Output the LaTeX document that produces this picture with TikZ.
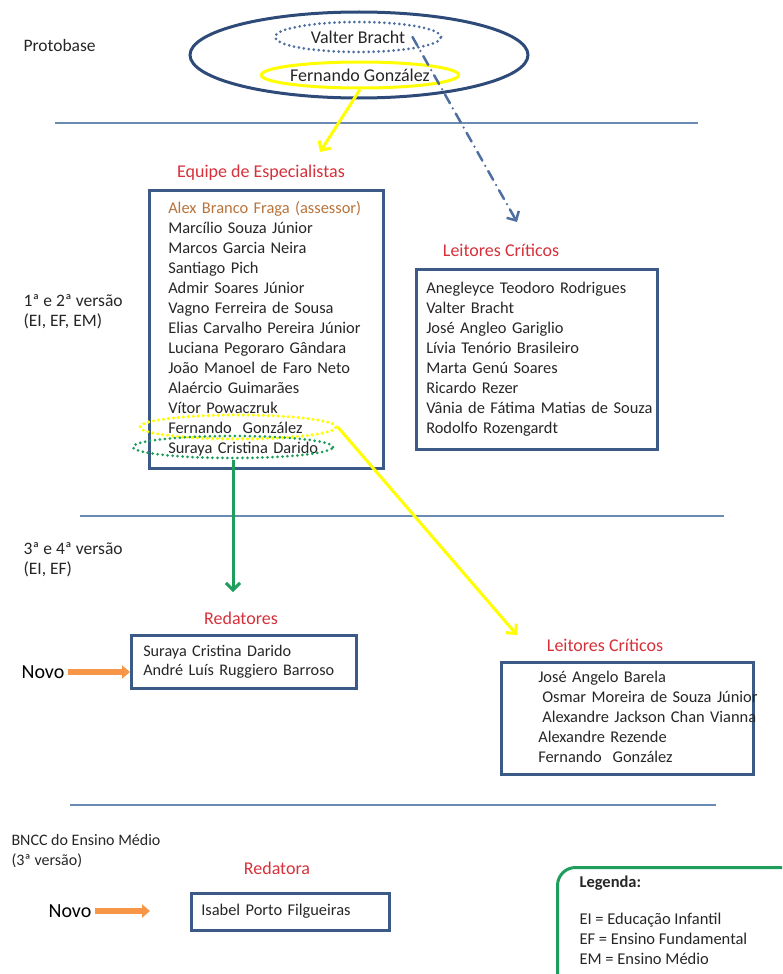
\documentclass[tikz,border=0pt]{standalone}
\usepackage{fontspec}
\setmainfont{Carlito}
\usetikzlibrary{arrows.meta,shapes.geometric}
\definecolor{azulcx}{HTML}{3B5B86}
\definecolor{azulel}{HTML}{2E4A78}
\definecolor{azulpt}{HTML}{4F6FA0}
\definecolor{linha}{HTML}{6A8CB4}
\definecolor{titulo}{HTML}{D6303A}
\definecolor{assessor}{HTML}{B8733A}
\definecolor{amarelo}{HTML}{FFFF00}
\definecolor{verde}{HTML}{1E9E5A}
\definecolor{laranja}{HTML}{F79646}
\newcommand{\nomes}[1]{\begin{tabular}{@{}l@{}}#1\end{tabular}}
\newcommand{\tam}[1]{\fontsize{#1}{20}\selectfont}

\begin{document}
\begin{tikzpicture}[x=1pt,y=-1pt,
		every node/.style={font=\tam{16.4}, text=black!85},
		rotulo/.style={anchor=west, align=left, font=\tam{17.5}},
		titulo/.style={font=\tam{18}, text=titulo},
		caixa/.style={draw=azulcx, line width=2.5pt, anchor=north west, align=left, inner ysep=0pt},
		separa/.style={draw=linha, line width=1.2pt},
		seta/.style={line width=3pt, -{Straight Barb[length=7pt,width=14pt]}},
		novo/.style={font=\tam{20}, text=black},
		laranjada/.style={draw=laranja, line width=6pt, -{Triangle[length=8pt,width=13pt]}},
		pontilhado/.style={ellipse, inner sep=0pt, line cap=round, dash pattern=on 0pt off 5pt}]
	\clip (0,0) rectangle (782,974);

	\node[rotulo] (proto) at (20,45) {Protobase};
	\node[rotulo] (v12) at (20,312) {1ª e 2ª versão\\(EI, EF, EM)};
	\node[rotulo] (v34) at (20,560) {3ª e 4ª versão\\(EI, EF)};
	\node[rotulo, font=\tam{16}] (bncc) at (8,851) {BNCC do Ensino Médio\\(3ª versão)};

	\draw[separa] (55,123) -- (698,123);
	\draw[separa] (80,516) -- (724,516);
	\draw[separa] (70,805) -- (716,805);

	\node[ellipse, draw=azulel, line width=3pt, minimum width=338, minimum height=86] (base) at (359,55) {};
	\node[pontilhado, draw=azulpt, line width=3pt, minimum width=166, minimum height=30, font=\tam{18}] (vb) at (358,37) {Valter Bracht};
	\node[ellipse, draw=amarelo, line width=3pt, inner sep=0pt, minimum width=166, minimum height=26, font=\tam{18}] (fg) at (360,75) {Fernando González};

	\node[titulo] (tesp) at (261,173) {Equipe de Especialistas};
	\node[caixa, minimum height=278, inner xsep=19, text width=196pt] (esp) at (148,189) {\nomes{
		{\color{assessor}Alex Branco Fraga (assessor)}\\
		Marcílio Souza Júnior\\
		Marcos Garcia Neira\\
		Santiago Pich\\
		Admir Soares Júnior\\
		Vagno Ferreira de Sousa\\
		Elias Carvalho Pereira Júnior\\
		Luciana Pegoraro Gândara\\
		João Manoel de Faro Neto\\
		Alaércio Guimarães\\
		Vítor Powaczruk\\
		Fernando\ \ González\\
		Suraya Cristina Darido}};
	\node[pontilhado, draw=amarelo, line width=3.5pt, minimum width=196, minimum height=24] (fg2) at (238,427) {};
	\node[pontilhado, draw=verde, line width=3pt, minimum width=200, minimum height=22] (scd) at (233,447) {};

	\node[titulo] (tlc1) at (501,250) {Leitores Críticos};
	\node[caixa, minimum height=180, inner xsep=10, text width=221pt] (lc1) at (415,268) {\nomes{
		Anegleyce Teodoro Rodrigues\\
		Valter Bracht\\
		José Angleo Gariglio\\
		Lívia Tenório Brasileiro\\
		Marta Genú Soares\\
		Ricardo Rezer\\
		Vânia de Fátima Matias de Souza\\
		Rodolfo Rozengardt}};

	\node[titulo] (tred) at (241,618) {Redatores};
	\node[caixa, minimum height=53, inner xsep=12, text width=201pt, font=\tam{16.2}] (red) at (130,634) {\nomes{
		Suraya Cristina Darido\\[-1pt]
		André Luís Ruggiero Barroso}};
	\node[novo] (novo1) at (43,672) {Novo};

	\node[titulo] (tlc2) at (605,645) {Leitores Críticos};
	\node[caixa, minimum height=112, inner xsep=37, text width=178pt] (lc2) at (500,661) {\nomes{
		José Angelo Barela\\
		\hspace{4pt}Osmar Moreira de Souza Júnior\\
		\hspace{4pt}Alexandre Jackson Chan Vianna\\
		Alexandre Rezende\\
		Fernando\ \ González}};

	\node[titulo] (tra) at (277,868) {Redatora};
	\node[caixa, minimum height=37, inner xsep=10, text width=178pt] (isa) at (190,892) {\nomes{Isabel Porto Filgueiras}};
	\node[novo] (novo2) at (70,911) {Novo};

	\node[draw=verde, line width=3pt, rounded corners=18pt, anchor=north west, minimum width=260, minimum height=140] (leg) at (556,866) {};
	\node[anchor=north west, align=left, font=\tam{16.5}] (legtxt) at (576,872) {\textbf{Legenda:}\\[17pt]
		EI = Educação Infantil\\
		EF = Ensino Fundamental\\
		EM = Ensino Médio};

	\coordinate (pontaY) at (320,152);
	\coordinate (pontaB) at (517,222);
	\coordinate (pontaV) at (233,592);
	\coordinate (pontaL) at (517,635);
	\draw[seta, amarelo] (fg.south) -- (pontaY);
	\draw[seta, azulpt, line width=2.5pt, line cap=round, dash pattern=on 10pt off 6pt on 0pt off 6pt] ([xshift=-30pt]vb.east) -- (pontaB);
	\draw[seta, verde] (scd.south) -- (pontaV);
	\draw[seta, amarelo] (fg2.east) -- (pontaL);
	\draw[laranjada] (novo1.east) -- (novo1 -| red.west);
	\draw[laranjada, shorten >=40pt] (novo2.east) -- (novo2 -| isa.west);
\end{tikzpicture}
\end{document}
